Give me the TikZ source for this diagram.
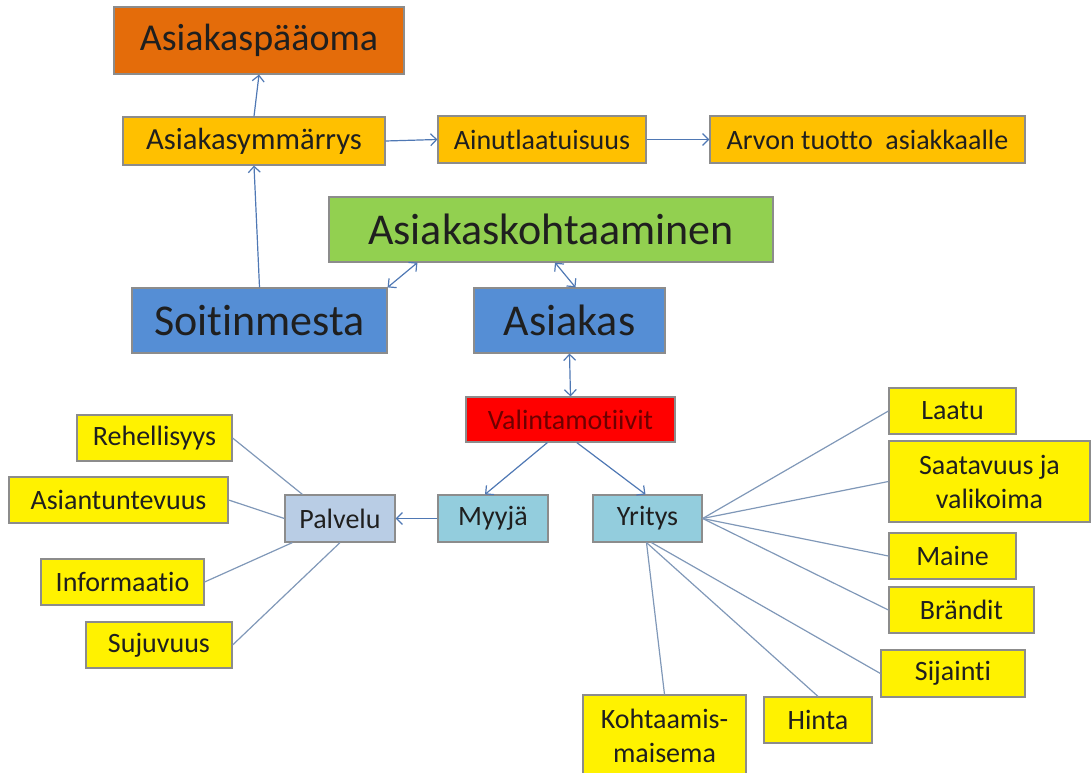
\documentclass[tikz,border=0pt]{standalone}
\usepackage{fontspec}
\setmainfont[Ligatures=NoCommon]{Carlito}
\usepackage{tikz}
\usetikzlibrary{positioning,calc,arrows.meta}

\definecolor{poolorange}{RGB}{228,108,10}
\definecolor{amber}{RGB}{255,192,0}
\definecolor{meetgreen}{RGB}{146,208,80}
\definecolor{midblue}{RGB}{85,142,213}
\definecolor{paleblue}{RGB}{147,205,221}
\definecolor{greyblue}{RGB}{185,205,229}
\definecolor{linkblue}{RGB}{79,120,180}
\definecolor{leafline}{RGB}{128,152,184}
\definecolor{darkred}{RGB}{110,0,0}

\tikzset{
  box/.style={draw=black!45, line width=0.9pt, inner sep=0pt, align=center, text=black!88,
    font=\fontsize{21}{25.5}\selectfont},
  bigbox/.style={box, font=\fontsize{33}{38}\selectfont},
  sz/.style 2 args={minimum width=#1*0.75pt, minimum height=#2*0.75pt},
  leafbox/.style={box, fill=yellow},
  arr/.style={draw=linkblue, line width=0.9pt, -{Straight Barb[length=4.5pt,width=9pt]}},
  arrboth/.style={draw=linkblue, line width=0.9pt,
    {Straight Barb[length=4.5pt,width=9pt]}-{Straight Barb[length=4.5pt,width=9pt]}},
  leaf/.style={draw=leafline, line width=0.9pt},
}

\begin{document}
\begin{tikzpicture}[x=0.75pt, y=-0.75pt]
    \useasboundingbox (0,0) rectangle (1091,773);

    % top row
    \node[box, sz={290}{67}, fill=poolorange, font=\fontsize{28.5}{33}\selectfont] (pool) at (259,40.5) {Asiakaspääoma};
    \node[box, sz={262}{48}, fill=amber, font=\fontsize{23}{27}\selectfont] (ymm) at (254,141) {Asiakasymmärrys};
    \node[box, sz={208}{47}, fill=amber] (ainut) at (542,139.5) {Ainutlaatuisuus};
    \node[box, sz={315}{47}, fill=amber] (arvo) at (867.5,139.5) {Arvon tuotto\ \ asiakkaalle};

    % middle
    \node[bigbox, sz={444}{65}, fill=meetgreen] (kohtaa) at (551,229.5) {Asiakaskohtaaminen};
    \node[bigbox, sz={255}{65}, fill=midblue] (soitin) at (259.5,320.5) {Soitinmesta};
    \node[bigbox, sz={191}{65}, fill=midblue] (asiakas) at (569.5,320.5) {Asiakas};
    \node[box, sz={209}{45}, fill=red, text=darkred] (valinta) at (570.5,419.5) {Valintamotiivit};

    % second level
    \node[box, sz={110}{47}, fill=greyblue] (palvelu) at (340,518.5) {Palvelu};
    \node[box, sz={110}{47}, fill=paleblue] (myyja) at (493,518.5) {Myyjä};
    \node[box, sz={109}{47}, fill=paleblue] (yritys) at (647.5,518.5) {Yritys};

    % Palvelu leaves
    \node[leafbox, sz={155}{46}] (rehell) at (154.5,438) {Rehellisyys};
    \node[leafbox, sz={219}{46}] (asiant) at (118.5,500) {Asiantuntevuus};
    \node[leafbox, sz={163}{46}] (info) at (122.5,582) {Informaatio};
    \node[leafbox, sz={146}{46}] (sujuv) at (159,645) {Sujuvuus};

    % Yritys leaves
    \node[leafbox, sz={127}{46}] (laatu) at (952.5,411) {Laatu};
    \node[leafbox, sz={201}{81}] (saatav) at (989.5,481.5) {Saatavuus ja\\valikoima};
    \node[leafbox, sz={127}{46}] (maine) at (952.5,556) {Maine};
    \node[leafbox, sz={145}{46}] (brandit) at (961.5,610) {Brändit};
    \node[leafbox, sz={144}{47}] (sijainti) at (953,673.5) {Sijainti};
    \node[leafbox, sz={108}{46}] (hinta) at (818,720) {Hinta};
    \node[leafbox, sz={163}{81}] (maisema) at (664.5,735.5) {Kohtaamis-\\maisema};

    % arrows
    \draw[arr] (ymm.north) -- (pool.south);
    \draw[arr] (soitin.north) -- (ymm.south);
    \draw[arr] (ymm.east) -- (ainut.west);
    \draw[arr] (ainut.east) -- (arvo.west);
    \draw[arrboth] (soitin.north east) -- ($(kohtaa.south west)!0.2!(kohtaa.south east)$);
    \draw[arrboth] ($(asiakas.north)+(6,0)$) -- ($(kohtaa.south)+(4,0)$);
    \draw[arrboth] (asiakas.south) -- (valinta.north);
    \draw[arr] ($(valinta.south west)!0.39!(valinta.south east)$) -- ($(myyja.north)+(-8,0)$);
    \draw[arr] ($(valinta.south west)!0.53!(valinta.south east)$) -- ($(yritys.north)+(-2,0)$);
    \draw[arr] (myyja.west) -- (palvelu.east);

    % lines to leaves
    \draw[leaf] (rehell.east) -- ($(palvelu.north west)+(18,0)$);
    \draw[leaf] (asiant.east) -- (palvelu.west);
    \draw[leaf] (info.east) -- ($(palvelu.south west)+(8,0)$);
    \draw[leaf] (sujuv.east) -- (palvelu.south);
    \draw[leaf] (yritys.east) -- (laatu.west);
    \draw[leaf] (yritys.east) -- (saatav.west);
    \draw[leaf] (yritys.east) -- (maine.west);
    \draw[leaf] (yritys.east) -- (brandit.west);
    \draw[leaf] ($(yritys.south)+(4,0)$) -- (sijainti.west);
    \draw[leaf] ($(yritys.south)+(-1,0)$) -- (hinta.north);
    \draw[leaf] ($(yritys.south)+(-1,0)$) -- (maisema.north);
\end{tikzpicture}
\end{document}
